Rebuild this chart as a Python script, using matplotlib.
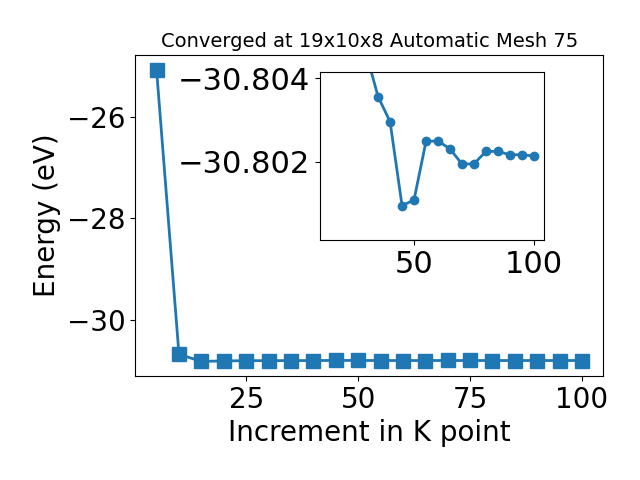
import matplotlib
matplotlib.use("Agg")
import matplotlib.pyplot as plt

kpoints = [5, 10, 15, 20, 25, 30, 35, 40, 45, 50, 55, 60, 65, 70, 75, 80, 85, 90, 95, 100]
energy = [-25.07, -30.68, -30.82, -30.81, -30.806, -30.8046, -30.80356, -30.80296,
          -30.80095, -30.80109, -30.80249, -30.80250, -30.80231, -30.80195, -30.80195,
          -30.80225, -30.80225, -30.80217, -30.80217, -30.80214]

main_xticks = [25, 50, 75, 100]
main_yticks = [-26, -28, -30]
inset_xticks = [50, 100]
inset_yticks = [-30.804, -30.802]

fig = plt.figure(figsize=(6.4, 4.8), dpi=100)
ax = fig.add_axes([0.2114, 0.2167, 0.7313, 0.668])
ax.plot(kpoints, energy, marker='s', markersize=10, linewidth=2, color='#1f77b4')
ax.set_xticks(main_xticks)
ax.set_yticks(main_yticks)
ax.tick_params(labelsize=20)
ax.set_xlabel('Increment in K point', fontsize=20)
ax.set_ylabel('Energy (eV)', fontsize=20)
ax.set_title('Converged at 19x10x8 Automatic Mesh 75', fontsize=14)

ins = fig.add_axes([0.5, 0.5, 0.35, 0.35])
ins.plot(kpoints[2:], energy[2:], marker='o', markersize=6, linewidth=2, color='#1f77b4')
ins.set_ylim(-30.80013, -30.80415)
ins.set_xticks(inset_xticks)
ins.set_yticks(inset_yticks)
ins.ticklabel_format(axis='y', useOffset=False)
ins.tick_params(labelsize=22)

fig.savefig('out.png', dpi=100)
